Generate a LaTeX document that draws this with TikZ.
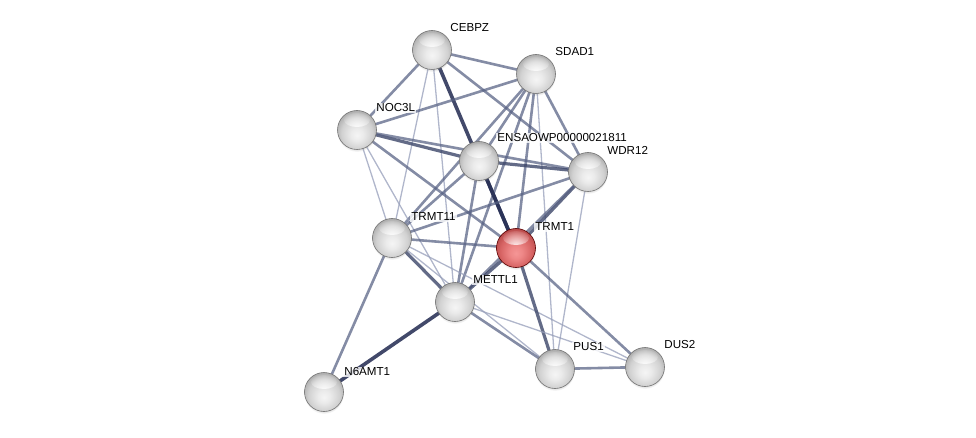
\documentclass[tikz,border=0pt]{standalone}
\usepackage{fontspec}
\setmainfont{Liberation Sans}
\usetikzlibrary{fadings,shadows}
\tikzfading[name=softhl, inner color=transparent!0, outer color=transparent!100]
\pgfdeclareradialshading{sphgray}{\pgfqpoint{0bp}{-7bp}}{color(0bp)=(white!96!black); color(8bp)=(white!92!black); color(20bp)=(white!82!black); color(28bp)=(white!68!black); color(32bp)=(white!60!black); color(50bp)=(white!60!black)}
\pgfdeclareradialshading{sphred}{\pgfqpoint{0bp}{-7bp}}{color(0bp)=(rgb,255:red,245;green,150;blue,150); color(8bp)=(rgb,255:red,238;green,135;blue,135); color(20bp)=(rgb,255:red,215;green,100;blue,100); color(28bp)=(rgb,255:red,185;green,75;blue,75); color(32bp)=(rgb,255:red,160;green,60;blue,60); color(50bp)=(rgb,255:red,160;green,60;blue,60)}
\definecolor{ethin}{RGB}{150,158,185}
\definecolor{emed}{RGB}{85,95,130}
\definecolor{ethick}{RGB}{60,70,105}
\definecolor{edark}{RGB}{40,48,85}
\tikzset{
  ball/.style={circle,minimum size=39pt,inner sep=0pt,draw=white!45!black,line width=0.6pt,shading=sphgray,
    circular drop shadow={shadow xshift=0pt,shadow yshift=-2pt,opacity=0.25,shadow scale=1.02},
    path picture={\fill[white,fill opacity=0.95,path fading=softhl] ([yshift=10pt]path picture bounding box.center) ellipse (13pt and 7pt);}},
  redball/.style={ball,shading=sphred,draw=red!35!black},
  lab/.style={anchor=west,font=\fontsize{11.6pt}{13pt}\selectfont,inner sep=1.2pt,fill=white,fill opacity=0.8,text opacity=1},
  ea/.style={draw=ethin,line width=1.3pt,opacity=0.75},
  eb/.style={draw=emed,line width=2.6pt,opacity=0.72},
  ec/.style={draw=ethick,line width=3.2pt,opacity=0.8},
  ed/.style={draw=edark,line width=3.6pt,opacity=0.88},
}
\begin{document}
\begin{tikzpicture}[x=1pt,y=-1pt]
\useasboundingbox (0,0) rectangle (976,438);
\coordinate (C) at (432,50);
\coordinate (S) at (536,74);
\coordinate (N) at (357,130);
\coordinate (E) at (479,161);
\coordinate (W) at (588,172);
\coordinate (T11) at (392,238);
\coordinate (T1) at (516,248);
\coordinate (M) at (455,302);
\coordinate (P) at (555,369);
\coordinate (D) at (645,367);
\coordinate (N6) at (324,392);
% edges
\draw[eb] (C) -- (S);
\draw[eb] (C) -- (N);
\draw[ed] (C) -- (T1);
\draw[eb] (C) -- (W);
\draw[ea] (C) -- (T11);
\draw[ea] (C) -- (M);
\draw[eb] (S) -- (N);
\draw[eb] (S) -- (E);
\draw[eb] (S) -- (W);
\draw[eb] (S) -- (T11);
\draw[eb] (S) -- (M);
\draw[eb] (S) -- (T1);
\draw[ea] (S) -- (P);
\draw[ec] (N) -- (E);
\draw[eb] (N) -- (W);
\draw[eb] (N) -- (T1);
\draw[ea] (N) -- (T11);
\draw[ea] (N) -- (M);
\draw[ec] (E) -- (W);
\draw[eb] (E) -- (T11);
\draw[ed] (E) -- (T1);
\draw[eb] (E) -- (M);
\draw[eb] (W) -- (T11);
\draw[ec] (W) -- (T1);
\draw[eb] (W) -- (M);
\draw[ea] (W) -- (P);
\draw[eb] (T11) -- (T1);
\draw[ec] (T11) -- (M);
\draw[eb] (T11) -- (N6);
\draw[ea] (T11) -- (P);
\draw[ea] (T11) -- (D);
\draw[ec] (T1) -- (M);
\draw[ec] (T1) -- (P);
\draw[eb] (T1) -- (D);
\draw[ed] (M) -- (N6);
\draw[eb] (M) -- (P);
\draw[ea] (M) -- (D);
\draw[eb] (P) -- (D);
% nodes
\node[ball] (nC) at (C) {};
\node[ball] (nS) at (S) {};
\node[ball] (nN) at (N) {};
\node[ball] (nE) at (E) {};
\node[ball] (nW) at (W) {};
\node[ball] (nT11) at (T11) {};
\node[redball] (nT1) at (T1) {};
\node[ball] (nM) at (M) {};
\node[ball] (nP) at (P) {};
\node[ball] (nD) at (D) {};
\node[ball] (nN6) at (N6) {};
% labels
\node[lab] (lC) at (449,28) {CEBPZ};
\node[lab] (lS) at (554,52) {SDAD1};
\node[lab] (lN) at (375,108) {NOC3L};
\node[lab] (lE) at (496,138) {ENSAOWP00000021811};
\node[lab] (lW) at (606,150) {WDR12};
\node[lab] (lT11) at (410,217) {TRMT11};
\node[lab] (lT1) at (534,227) {TRMT1};
\node[lab] (lM) at (472,280) {METTL1};
\node[lab] (lP) at (572,347) {PUS1};
\node[lab] (lD) at (663,345) {DUS2};
\node[lab] (lN6) at (343,372) {N6AMT1};
\end{tikzpicture}
\end{document}
